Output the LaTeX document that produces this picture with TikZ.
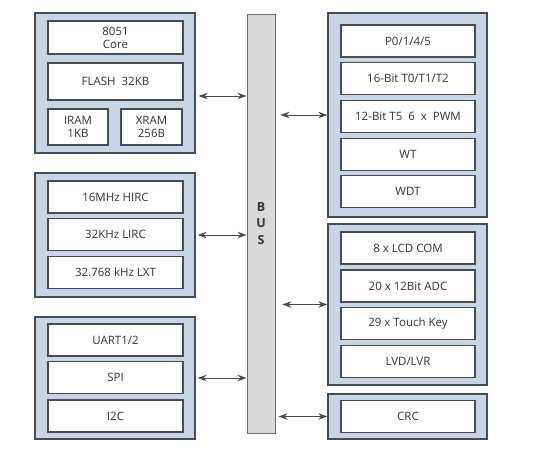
\documentclass[tikz,border=0pt]{standalone}
\usepackage{fontspec}
\setmainfont{Open Sans}
\usetikzlibrary{arrows.meta}

\definecolor{groupfill}{HTML}{C9D5E3}
\definecolor{busfill}{HTML}{D9D9D9}
\definecolor{edge}{HTML}{454C55}
\definecolor{ink}{HTML}{333333}

\tikzset{
	group/.style={draw=edge,line width=1.3pt,fill=groupfill,minimum width=160pt},
	block/.style={draw=edge,line width=1.1pt,fill=white,text=ink,align=center,
		font=\fontsize{11.5}{13}\selectfont,inner sep=0pt,minimum width=135pt,minimum height=32pt},
	link/.style={{Stealth[length=9pt,width=6.5pt]}-{Stealth[length=9pt,width=6.5pt]},
		draw=edge,line width=1pt}
}

\begin{document}
\begin{tikzpicture}[x=1pt,y=-1pt]
	% picture size, same as the reference
	\useasboundingbox (0,0) rectangle (544,448);

	% the bus in the middle
	\node[draw=edge!80,line width=0.9pt,fill=busfill,minimum width=28pt,minimum height=419pt,
		inner sep=0pt,align=center,font=\bfseries\fontsize{12.5}{16.5}\selectfont,text=ink]
		(bus) at (261,223.5) {B\\U\\S};

	% left: core and memory
	\node[group,minimum height=140pt] (mem) at (115,83) {};
	\node[block,minimum height=33pt] (core) at (115.5,37.5) {8051\\Core};
	\node[block,minimum height=37pt] (flash) at (115.5,81.5) {FLASH\ \ 32KB};
	\node[block,minimum width=60pt,minimum height=36pt] (iram) at (78,127) {IRAM\\1KB};
	\node[block,minimum width=61pt,minimum height=36pt] (xram) at (151.5,127) {XRAM\\256B};

	% left: clocks
	\node[group,minimum height=124pt] (clk) at (115,235) {};
	\node[block] (hirc) at (115.5,197) {16MHz HIRC};
	\node[block] (lirc) at (115.5,234.5) {32KHz LIRC};
	\node[block] (lxt) at (115.5,272.5) {32.768 kHz LXT};

	% left: serial ports
	\node[group,minimum height=122pt] (com) at (115,378) {};
	\node[block] (uart) at (115.5,340) {UART1/2};
	\node[block] (spi) at (115.5,377.5) {SPI};
	\node[block] (iic) at (115.5,416) {I2C};

	% right: ports and timers
	\node[group,minimum width=159pt,minimum height=204pt] (tim) at (407.5,115) {};
	\node[block,minimum width=134pt] (port) at (408,41) {P0/1/4/5};
	\node[block,minimum width=134pt] (t012) at (408,78.5) {16-Bit T0/T1/T2};
	\node[block,minimum width=134pt] (pwm) at (408,116.5) {12-Bit T5\ \ 6\ \ x\ \ PWM};
	\node[block,minimum width=134pt] (wt) at (408,154.5) {WT};
	\node[block,minimum width=134pt] (wdt) at (408,191.5) {WDT};

	% right: analog
	\node[group,minimum width=159pt,minimum height=161pt] (ana) at (407.5,304.5) {};
	\node[block,minimum width=134pt] (lcd) at (408,248) {8 x LCD COM};
	\node[block,minimum width=134pt] (adc) at (408,286) {20 x 12Bit ADC};
	\node[block,minimum width=134pt] (key) at (408,323.5) {29 x Touch Key};
	\node[block,minimum width=134pt] (lvd) at (408,361.5) {LVD/LVR};

	% right: crc
	\node[group,minimum width=159pt,minimum height=45pt] (chk) at (407.5,416.5) {};
	\node[block,minimum width=134pt] (crc) at (408,416.5) {CRC};

	% arrows to the bus
	\draw[link,shorten <=3pt] ([yshift=-13pt]mem.east) -- ([yshift=-13pt]mem.east -| bus.west);
	\draw[link,shorten <=2pt] (clk.east) -- (clk.east -| bus.west);
	\draw[link,shorten <=2pt] (com.east) -- (com.east -| bus.west);
	\draw[link,shorten <=5pt] (tim.west -| bus.east) -- (tim.west);
	\draw[link,shorten <=7pt] (ana.west -| bus.east) -- (ana.west);
	\draw[link,shorten <=3pt] (chk.west -| bus.east) -- (chk.west);

\end{tikzpicture}
\end{document}
